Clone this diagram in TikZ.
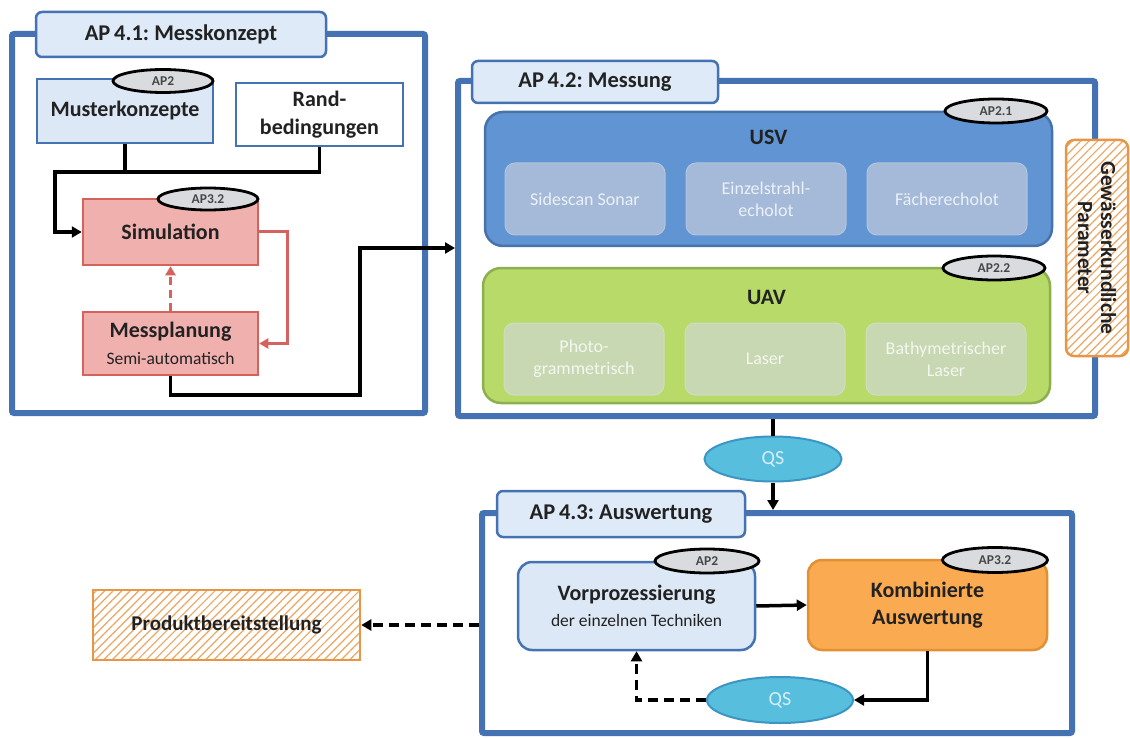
\documentclass[tikz,border=0pt]{standalone}
\usepackage{fontspec}
\setmainfont{Carlito}
\usetikzlibrary{shapes.geometric,arrows.meta,patterns.meta}
\frenchspacing

\definecolor{frameblue}{RGB}{68,114,178}
\definecolor{tabfill}{RGB}{222,234,247}
\definecolor{lightbox}{RGB}{221,232,246}
\definecolor{simfill}{RGB}{240,176,174}
\definecolor{simline}{RGB}{214,98,94}
\definecolor{usvfill}{RGB}{96,148,210}
\definecolor{usvline}{RGB}{70,115,170}
\definecolor{usvinner}{RGB}{164,186,216}
\definecolor{uavfill}{RGB}{183,218,104}
\definecolor{uavline}{RGB}{140,175,80}
\definecolor{uavinner}{RGB}{200,216,178}
\definecolor{apgrey}{RGB}{217,219,222}
\definecolor{qsfill}{RGB}{88,190,222}
\definecolor{qsline}{RGB}{60,150,195}
\definecolor{komfill}{RGB}{250,170,80}
\definecolor{komline}{RGB}{226,145,50}
\definecolor{hatchline}{RGB}{232,150,70}
\definecolor{txt}{RGB}{34,34,34}

\newcommand{\bigbold}{\fontsize{22}{26}\selectfont\bfseries}
\newcommand{\subtext}{\fontsize{17.5}{21}\selectfont\mdseries}

\tikzset{
  frame/.style={draw=frameblue, line width=6pt, rounded corners=2pt, inner sep=0pt},
  tab/.style={draw=frameblue, fill=tabfill, line width=2.5pt, rounded corners=6pt,
    font=\fontsize{22.5}{26}\selectfont\bfseries, text=txt, inner sep=0pt},
  plainbox/.style={draw=frameblue, line width=2.5pt, inner sep=0pt, align=center,
    font=\fontsize{22}{28}\selectfont\bfseries, text=txt},
  redbox/.style={draw=simline, fill=simfill, line width=2.5pt, inner sep=0pt, align=center,
    text=txt},
  aplabel/.style={ellipse, draw=black, fill=apgrey, line width=2.8pt, inner sep=0pt,
    font=\fontsize{13.5}{15}\selectfont\bfseries, text=black!72},
  group/.style={line width=2.5pt, rounded corners=18pt, inner sep=0pt},
  grouptitle/.style={font=\fontsize{22}{26}\selectfont\bfseries, text=txt},
  usvitem/.style={fill=usvinner, draw=usvinner!85!white, line width=1pt, rounded corners=10pt,
    inner sep=0pt, align=center, font=\fontsize{18}{22}\selectfont, text=white!80!usvinner,
    minimum width=160pt, minimum height=72pt},
  uavitem/.style={fill=uavinner, draw=uavinner!85!white, line width=1pt, rounded corners=10pt,
    inner sep=0pt, align=center, font=\fontsize{18}{22}\selectfont, text=white!80!uavinner,
    minimum width=160pt, minimum height=72pt},
  qs/.style={ellipse, draw=qsline, fill=qsfill, line width=2pt, inner sep=0pt,
    font=\fontsize{20}{24}\selectfont, text=white!75!qsfill},
  hatch/.style={draw=hatchline, line width=2.5pt, inner sep=0pt, align=center,
    preaction={fill=white},
    pattern={Lines[angle=45,distance=6pt,line width=1.2pt]}, pattern color=hatchline!85!white,
    font=\fontsize{21}{25}\selectfont\bfseries, text=txt},
  roundbox/.style={line width=2.5pt, rounded corners=14pt, inner sep=0pt, align=center, text=txt},
  conn/.style={draw=black, line width=3.5pt, -{Triangle[length=10pt,width=11pt]}},
  line/.style={draw=black, line width=3.5pt},
  redconn/.style={draw=simline, line width=3pt, -{Triangle[length=9pt,width=10pt]}},
  dashconn/.style={draw=black, line width=3.5pt, dash pattern=on 10pt off 6pt,
    -{Triangle[length=10pt,width=11pt]}}
}

\begin{document}
\begin{tikzpicture}[x=1pt,y=-1pt]
\useasboundingbox (0,0) rectangle (1130,738);
\fill[white] (0,0) rectangle (1130,738);

% ---------------- AP 4.1 ----------------
\node[frame, minimum width=413pt, minimum height=379pt] (ap41) at (218.5,223.5) {};
\node[tab, minimum width=290pt, minimum height=45pt] (t41) at (181,34.5) {AP\,4.1: Messkonzept};

\node[plainbox, fill=lightbox, minimum width=176pt, minimum height=64pt] (muster) at (125,111) {Musterkonzepte};
\node[aplabel, minimum width=100pt, minimum height=23pt] (ap2a) at (163,81) {AP2};
\node[plainbox, fill=white, minimum width=167pt, minimum height=63pt] (rand) at (319.5,114.5) {Rand-\\bedingungen};

\node[redbox, minimum width=175pt, minimum height=66pt, font=\bigbold] (sim) at (170.5,232) {Simulation};
\node[aplabel, minimum width=100pt, minimum height=22pt] (ap32a) at (208,199) {AP3.2};
\node[redbox, minimum width=175pt, minimum height=63pt, font=\bigbold] (mess) at (170.5,343.5)
  {Messplanung\\[1pt]{\subtext Semi-automatisch}};

% ---------------- AP 4.2 ----------------
\node[frame, minimum width=637pt, minimum height=335pt] (ap42) at (776.5,248.5) {};
\node[tab, minimum width=246pt, minimum height=42pt] (t42) at (595,82) {AP\,4.2: Messung};

\node[group, draw=usvline, fill=usvfill, minimum width=567pt, minimum height=134pt] (usv) at (768.5,179) {};
\node[grouptitle] (usvt) at (768.5,137) {USV};
\node[aplabel, minimum width=102pt, minimum height=24pt] (ap21) at (996,111) {AP2.1};
\node[usvitem] (side) at (585,199) {Sidescan Sonar};
\node[usvitem] (einz) at (766,199) {Einzelstrahl-\\echolot};
\node[usvitem] (fach) at (947,199) {Fächerecholot};

\node[group, draw=uavline, fill=uavfill, minimum width=567pt, minimum height=135pt] (uav) at (766.5,335.5) {};
\node[grouptitle] (uavt) at (766.5,297) {UAV};
\node[aplabel, minimum width=102pt, minimum height=24pt] (ap22) at (994,268) {AP2.2};
\node[uavitem] (photo) at (584,359) {Photo-\\grammetrisch};
\node[uavitem] (laser) at (765,359) {Laser};
\node[uavitem] (bathy) at (946,359) {Bathymetrischer\\Laser};

\node[hatch, rounded corners=8pt, minimum width=62pt, minimum height=216pt] (gew) at (1097,248) {};
\node[rotate=-90, align=center, font=\fontsize{21.5}{23}\selectfont\bfseries, text=txt] (gewt) at (gew.center)
  {Gewässerkundliche\\Parameter};

% ---------------- QS between 4.2 and 4.3 ----------------
\node[qs, minimum width=137pt, minimum height=45pt] (qs1) at (773,459) {QS};

% ---------------- AP 4.3 ----------------
\node[frame, minimum width=590pt, minimum height=220pt] (ap43) at (777,623) {};
\node[tab, minimum width=248pt, minimum height=46pt] (t43) at (621,514) {AP\,4.3: Auswertung};

\node[roundbox, draw=frameblue, fill=lightbox, minimum width=237pt, minimum height=88pt, font=\bigbold] (vor) at (636.5,606)
  {Vorprozessierung\\[0pt]{\subtext der einzelnen Techniken}};
\node[aplabel, minimum width=104pt, minimum height=24pt] (ap2b) at (707,561) {AP2};
\node[roundbox, draw=komline, fill=komfill, minimum width=239pt, minimum height=90pt, font=\fontsize{22}{27}\selectfont\bfseries] (kom) at (927.5,605)
  {Kombinierte\\Auswertung};
\node[aplabel, minimum width=105pt, minimum height=25pt] (ap32b) at (995,560) {AP3.2};
\node[qs, minimum width=146pt, minimum height=46pt] (qs2) at (780,700) {QS};

\node[hatch, minimum width=267pt, minimum height=70pt] (prod) at (226.5,625) {Produktbereitstellung};

% ---------------- connectors ----------------
\coordinate (join) at (55,172);
\draw[line] (muster.south) -- (muster.south |- join);
\draw[conn] (rand.south) |- (join) |- (sim.west);

\draw[redconn] (sim.east) -- ++(28,0) |- (mess.east);
\draw[redconn, dash pattern=on 8pt off 5pt] (mess.north) -- (sim.south);

\coordinate (bend) at (360,395);
\coordinate (in42) at (ap42.west |- 0,248);
\draw[conn] (mess.south) |- (bend) -- (bend |- in42) -- (in42);

\draw[line] (qs1.north |- ap42.south) -- (qs1.north);
\draw[conn] (qs1.south) -- (qs1.south |- ap43.north);

\draw[conn] (vor.east) -- (kom.west);
\draw[conn] (kom.south) |- (qs2.east);
\draw[dashconn] (qs2.west) -| (vor.south);
\draw[dashconn] (ap43.west |- prod.east) -- (prod.east);
\end{tikzpicture}
\end{document}
